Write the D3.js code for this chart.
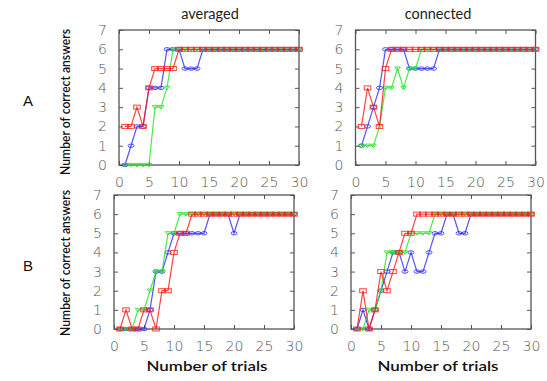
<!DOCTYPE html>
<html><head><meta charset="utf-8">
<script src="https://cdn.jsdelivr.net/npm/d3@7"></script>
<style>html,body{margin:0;padding:0;background:#fff;}svg{display:block;}</style>
</head><body>
<svg id="c" width="547" height="381"></svg>
<script>
const trials = [1,2,3,4,5,6,7,8,9,10,11,12,13,14,15,16,17,18,19,20,21,22,23,24,25,26,27,28,29,30];
const xTicks = [0,5,10,15,20,25,30];
const yTicks = [0,1,2,3,4,5,6,7];
const colTitles = ["averaged","connected"];
const rowLabels = ["A","B"];
const yLabel = "Number of correct answers";
const xLabel = "Number of trials";

// A averaged
const aAvgBlue  = [0,1,2,2,4,4,4,6,6,6,5,5,5,6,6,6,6,6,6,6,6,6,6,6,6,6,6,6,6,6];
const aAvgGreen = [0,0,0,0,0,3,3,4,6,6,6,6,6,6,6,6,6,6,6,6,6,6,6,6,6,6,6,6,6,6];
const aAvgRed   = [2,2,3,2,4,5,5,5,5,6,6,6,6,6,6,6,6,6,6,6,6,6,6,6,6,6,6,6,6,6];
// A connected
const aConBlue  = [1,2,3,4,6,6,6,6,5,5,5,5,5,6,6,6,6,6,6,6,6,6,6,6,6,6,6,6,6,6];
const aConGreen = [1,1,1,2,4,4,5,4,5,5,6,6,6,6,6,6,6,6,6,6,6,6,6,6,6,6,6,6,6,6];
const aConRed   = [2,4,3,2,5,6,6,6,6,6,6,6,6,6,6,6,6,6,6,6,6,6,6,6,6,6,6,6,6,6];
// B averaged
const bAvgBlue  = [0,0,0,0,0,1,3,3,4,5,5,5,5,5,5,6,6,6,6,5,6,6,6,6,6,6,6,6,6,6];
const bAvgGreen = [0,0,0,1,1,2,3,3,5,5,6,6,6,6,6,6,6,6,6,6,6,6,6,6,6,6,6,6,6,6];
const bAvgRed   = [0,1,0,0,1,1,0,2,2,4,5,5,6,6,6,6,6,6,6,6,6,6,6,6,6,6,6,6,6,6];
// B connected
const bConBlue  = [0,1,0,1,2,3,4,4,3,4,3,3,4,5,5,6,6,5,5,6,6,6,6,6,6,6,6,6,6,6];
const bConGreen = [0,0,1,1,2,4,4,4,4,5,5,5,5,6,6,6,6,6,6,6,6,6,6,6,6,6,6,6,6,6];
const bConRed   = [0,2,0,1,3,2,3,4,5,5,6,6,6,6,6,6,6,6,6,6,6,6,6,6,6,6,6,6,6,6];

const panels = [
  {x0:119, x1:299, y0:165, y1:30,  blue:aAvgBlue, green:aAvgGreen, red:aAvgRed},
  {x0:355.5, x1:535.5, y0:165, y1:30, blue:aConBlue, green:aConGreen, red:aConRed},
  {x0:114, x1:294, y0:329, y1:195, blue:bAvgBlue, green:bAvgGreen, red:bAvgRed},
  {x0:351, x1:531, y0:329, y1:195, blue:bConBlue, green:bConGreen, red:bConRed}
];

const svg = d3.select("#c");
const tickFont = "'DejaVu Sans', 'Liberation Sans', sans-serif";
const labFont = "Lato, 'Open Sans', sans-serif";
const frameCol = "#555";
const cBlue = "rgba(40,40,255,0.8)", cGreen = "rgba(30,230,30,0.8)", cRed = "rgba(255,20,20,0.8)";

panels.forEach(p => {
  const x = d3.scaleLinear().domain([0,30]).range([p.x0,p.x1]);
  const y = d3.scaleLinear().domain([0,7]).range([p.y0,p.y1]);
  const g = svg.append("g");
  const axB = g.append("g").attr("transform",`translate(0,${p.y0})`)
    .call(d3.axisBottom(x).tickValues(xTicks).tickFormat(d3.format("d")).tickSizeInner(-4).tickSizeOuter(0).tickPadding(12));
  const axT = g.append("g").attr("transform",`translate(0,${p.y1})`)
    .call(d3.axisTop(x).tickValues(xTicks).tickSizeInner(-4).tickSizeOuter(0).tickFormat(""));
  const axL = g.append("g").attr("transform",`translate(${p.x0},0)`)
    .call(d3.axisLeft(y).tickValues(yTicks).tickFormat(d3.format("d")).tickSizeInner(-4).tickSizeOuter(0).tickPadding(12));
  const axR = g.append("g").attr("transform",`translate(${p.x1},0)`)
    .call(d3.axisRight(y).tickValues(yTicks).tickSizeInner(-4).tickSizeOuter(0).tickFormat(""));
  [axB,axT,axL,axR].forEach(a=>{
    a.select(".domain").remove();
    a.selectAll("line").attr("stroke",frameCol).attr("stroke-width",1);
    a.selectAll("text").attr("font-family",tickFont).attr("font-size",14).attr("font-weight",200).attr("fill","#555");
  });
  g.append("rect").attr("x",p.x0).attr("y",p.y1).attr("width",p.x1-p.x0).attr("height",p.y0-p.y1)
    .attr("fill","none").attr("stroke",frameCol).attr("stroke-width",1.3);

  const line = d3.line().x((d,i)=>x(trials[i])).y(d=>y(d));
  const drawSeries = (vals,col,shape) => {
    g.append("path").datum(vals).attr("d",line).attr("fill","none").attr("stroke",col).attr("stroke-width",1.2);
    const m = g.append("g");
    vals.forEach((v,i)=>{
      const cx = x(trials[i]), cy = y(v);
      if (shape==="circle") {
        m.append("ellipse").attr("cx",cx).attr("cy",cy).attr("rx",3).attr("ry",1.7)
          .attr("fill","none").attr("stroke",col).attr("stroke-width",1);
      } else if (shape==="square") {
        m.append("rect").attr("x",cx-3.3).attr("y",cy-2).attr("width",6.6).attr("height",4)
          .attr("fill","none").attr("stroke",col).attr("stroke-width",1);
      } else {
        m.append("path").attr("d",`M${cx-2.8},${cy-1.6}L${cx+2.8},${cy-1.6}L${cx},${cy+2}Z`)
          .attr("fill","none").attr("stroke",col).attr("stroke-width",1);
      }
    });
  };
  drawSeries(p.blue,cBlue,"circle");
  drawSeries(p.green,cGreen,"triangle");
  drawSeries(p.red,cRed,"square");
});

// column titles
svg.append("text").attr("x",210).attr("y",19).attr("text-anchor","middle")
  .attr("font-family",labFont).attr("font-size",14.5).attr("fill","#222").text(colTitles[0]);
svg.append("text").attr("x",438).attr("y",19).attr("text-anchor","middle")
  .attr("font-family",labFont).attr("font-size",14.5).attr("fill","#222").text(colTitles[1]);
// row labels
svg.append("text").attr("x",28).attr("y",106).attr("text-anchor","middle")
  .attr("font-family","'Liberation Sans', Arial, sans-serif").attr("font-size",15).attr("fill","#111").text(rowLabels[0]);
svg.append("text").attr("x",28).attr("y",271).attr("text-anchor","middle")
  .attr("font-family","'Liberation Sans', Arial, sans-serif").attr("font-size",15).attr("fill","#111").text(rowLabels[1]);
// y labels
[[102],[263]].forEach(([cy])=>{
  svg.append("text").attr("transform",`translate(70,${cy}) rotate(-90)`).attr("text-anchor","middle")
    .attr("font-family",labFont).attr("font-size",14).attr("font-weight",600).attr("fill","#111")
    .attr("textLength",146).attr("lengthAdjust","spacingAndGlyphs").text(yLabel);
});
// x labels
[207,438].forEach(cx=>{
  svg.append("text").attr("x",cx).attr("y",371).attr("text-anchor","middle")
    .attr("font-family",labFont).attr("font-size",14).attr("font-weight",600).attr("fill","#111")
    .attr("textLength",121).attr("lengthAdjust","spacingAndGlyphs").text(xLabel);
});
</script>
</body></html>
